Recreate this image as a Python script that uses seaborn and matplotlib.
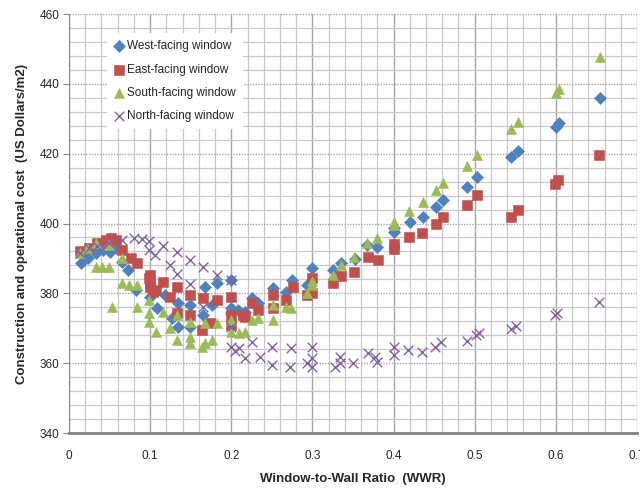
import numpy as np
import pandas as pd
import matplotlib.pyplot as plt
import seaborn as sns
from matplotlib.ticker import MultipleLocator

# values (WWR, cost in US$/m2)
west_wwr = [0.015, 0.023, 0.033, 0.042, 0.05, 0.058, 0.065, 0.073, 0.083, 0.1, 0.108, 0.118,
            0.127, 0.134, 0.134, 0.149, 0.149, 0.165, 0.167, 0.176, 0.183, 0.2, 0.2, 0.2, 0.208,
            0.217, 0.225, 0.233, 0.251, 0.268, 0.275, 0.293, 0.3, 0.325, 0.335, 0.352, 0.367,
            0.379, 0.401, 0.401, 0.42, 0.436, 0.452, 0.461, 0.49, 0.503, 0.545, 0.553, 0.6,
            0.604, 0.655]
west_cost = [388.6, 390.2, 391.5, 392.4, 391.8, 393.0, 389.0, 386.8, 381.0, 379.0, 375.8, 379.5,
             373.0, 377.2, 370.4, 376.7, 370.4, 373.8, 381.8, 376.7, 383.0, 383.8, 375.8, 374.4, 375.2,
             374.7, 378.7, 377.3, 381.5, 380.4, 383.8, 382.4, 387.3, 386.7, 388.8, 389.8, 393.8,
             393.3, 397.5, 398.8, 400.3, 401.9, 404.7, 406.7, 410.5, 413.2, 419.0, 420.8, 427.6,
             428.8, 436.0]

east_wwr = [0.014, 0.025, 0.035, 0.045, 0.052, 0.058, 0.065, 0.076, 0.084, 0.098, 0.1, 0.1, 0.1,
            0.104, 0.107, 0.116, 0.124, 0.133, 0.133, 0.149, 0.149, 0.164, 0.165, 0.174, 0.182,
            0.2, 0.2, 0.2, 0.214, 0.217, 0.225, 0.233, 0.251, 0.251, 0.268, 0.276, 0.293, 0.3,
            0.3, 0.325, 0.335, 0.351, 0.368, 0.381, 0.401, 0.401, 0.419, 0.435, 0.452, 0.461,
            0.49, 0.503, 0.545, 0.553, 0.599, 0.603, 0.653]
east_cost = [392.0, 393.0, 394.4, 395.3, 395.8, 395.3, 392.4, 390.0, 388.6, 384.4, 385.2, 383.0, 381.8,
             380.4, 381.0, 383.2, 379.0, 381.8, 374.4, 379.5, 373.8, 369.5, 378.7, 371.5, 378.0,
             379.0, 370.9, 373.8, 373.8, 373.2, 377.2, 375.2, 379.5, 375.8, 378.0, 381.8, 379.5, 384.5,
             380.2, 383.0, 385.0, 386.2, 390.4, 389.6, 394.2, 392.8, 396.0, 397.4, 400.0, 402.0,
             405.3, 408.2, 402.0, 404.0, 411.3, 412.5, 419.6]

south_wwr = [0.014, 0.022, 0.033, 0.049, 0.033, 0.041, 0.049, 0.053, 0.065, 0.065, 0.074, 0.084,
             0.084, 0.098, 0.098, 0.098, 0.107, 0.116, 0.124, 0.133, 0.133, 0.149, 0.149, 0.149,
             0.164, 0.167, 0.167, 0.176, 0.183, 0.2, 0.2, 0.21, 0.217, 0.225, 0.233, 0.251, 0.251,
             0.268, 0.273, 0.293, 0.3, 0.3, 0.325, 0.335, 0.351, 0.367, 0.379, 0.401, 0.401,
             0.419, 0.436, 0.452, 0.461, 0.49, 0.503, 0.545, 0.553, 0.6, 0.604, 0.655]
south_cost = [391.5, 393.0, 394.4, 393.8, 387.5, 387.5, 387.5, 376.0, 390.0, 383.0, 382.4, 382.4,
              376.0, 378.0, 374.4, 371.8, 368.9, 374.7, 370.0, 373.8, 366.6, 371.8, 367.5, 365.8,
              364.6, 365.8, 371.5, 366.6, 371.5, 369.0, 372.4, 368.6, 369.0, 372.4, 372.9, 376.7, 372.4,
              376.0, 375.8, 380.0, 382.4, 383.5, 385.2, 388.1, 390.4, 394.4, 395.8, 400.4, 399.5,
              403.6, 406.2, 409.6, 411.6, 416.5, 419.6, 427.0, 429.0, 437.5, 438.5, 447.8]

north_wwr = [0.014, 0.025, 0.035, 0.049, 0.065, 0.08, 0.09, 0.098, 0.098, 0.106, 0.116, 0.124,
             0.133, 0.133, 0.149, 0.149, 0.165, 0.165, 0.182, 0.2, 0.2, 0.2, 0.205, 0.21, 0.217,
             0.225, 0.235, 0.25, 0.25, 0.272, 0.274, 0.293, 0.3, 0.3, 0.3, 0.328, 0.334, 0.334,
             0.35, 0.368, 0.377, 0.379, 0.401, 0.401, 0.418, 0.435, 0.451, 0.459, 0.49, 0.502,
             0.505, 0.545, 0.551, 0.599, 0.602, 0.653]
north_cost = [391.5, 393.0, 393.5, 394.4, 395.3, 395.8, 395.5, 395.0, 392.4, 391.0, 393.6, 388.0,
              391.8, 385.5, 389.5, 382.6, 387.5, 376.0, 385.2, 383.8, 370.4, 364.6, 363.5, 364.3, 361.5,
              366.0, 361.8, 364.6, 359.5, 359.0, 364.3, 360.0, 364.6, 361.5, 359.0, 359.0, 361.8, 360.0,
              360.0, 363.0, 361.8, 360.3, 364.6, 362.3, 363.8, 363.2, 364.6, 366.0, 366.3, 368.0,
              368.6, 369.8, 370.6, 373.8, 374.4, 377.5]

series = [
    ("West-facing window", west_wwr, west_cost, "D", "#4F81BD", 38),
    ("East-facing window", east_wwr, east_cost, "s", "#C0504D", 48),
    ("South-facing window", south_wwr, south_cost, "^", "#9BBB59", 52),
    ("North-facing window", north_wwr, north_cost, "x", "#8064A2", 48),
]

sns.set_style("white")
plt.rcParams['font.family'] = ['Liberation Sans Narrow', 'Liberation Sans', 'DejaVu Sans']

fig = plt.figure(figsize=(6.4, 4.88), dpi=100)
ax = fig.add_axes([0.1078, 0.1127, 0.8875, 0.8586])

for name, xs, ys, mk, col, sz in series:
    df = pd.DataFrame({"wwr": xs, "cost": ys})
    if mk == "x":
        sns.scatterplot(data=df, x="wwr", y="cost", marker=mk, color=col, s=sz,
                        linewidth=1.0, label=name, ax=ax, zorder=3)
    else:
        sns.scatterplot(data=df, x="wwr", y="cost", marker=mk, color=col, s=sz,
                        edgecolor=col, linewidth=0.4, label=name, ax=ax, zorder=3)

ax.set_xlim(0, 0.7)
ax.set_ylim(340, 460)
ax.xaxis.set_major_locator(MultipleLocator(0.1))
ax.xaxis.set_minor_locator(MultipleLocator(0.02))
ax.yaxis.set_major_locator(MultipleLocator(20))
ax.yaxis.set_minor_locator(MultipleLocator(4))
ax.set_xticks(np.arange(0, 0.71, 0.1))
ax.set_xticklabels(["0", "0.1", "0.2", "0.3", "0.4", "0.5", "0.6", "0.7"])

ax.grid(which="minor", color="#c8c8c8", linewidth=0.9, linestyle="-", zorder=0)
ax.grid(which="major", axis="x", color="#a6a6a6", linewidth=1.0, linestyle="-", zorder=0)
ax.grid(which="major", axis="y", color="#a6a6a6", linewidth=1.0, linestyle=(0, (1, 1)), zorder=0)
ax.set_axisbelow(True)

for side in ["top", "right"]:
    ax.spines[side].set_visible(False)
ax.spines["left"].set_color("#8c8c8c")
ax.spines["bottom"].set_color("#808080")
ax.spines["bottom"].set_linewidth(2)

ax.tick_params(axis="y", which="major", length=4, width=0.8, color="#8c8c8c",
               labelsize=8.5, pad=3, left=True)
ax.tick_params(axis="y", which="minor", length=0)
ax.tick_params(axis="x", which="both", length=0, labelsize=8.5, pad=12)

ax.set_xlabel("Window-to-Wall Ratio  (WWR)", fontsize=9.5, fontweight="bold", labelpad=8)
ax.set_ylabel("Construction and operational cost  (US Dollars/m2)", fontsize=9.5,
              fontweight="bold", labelpad=8)

leg = ax.legend(loc="upper left", bbox_to_anchor=(0.056, 0.968), fontsize=8.5,
                frameon=True, fancybox=False, framealpha=1, edgecolor="white",
                handlelength=0.8, handletextpad=0.3, labelspacing=0.95, borderpad=0.6)
leg.get_frame().set_linewidth(0)

fig.savefig("out.png", dpi=100)
